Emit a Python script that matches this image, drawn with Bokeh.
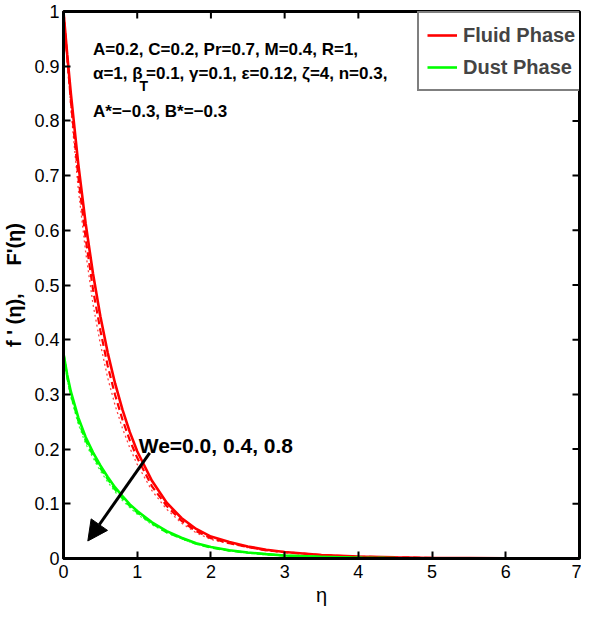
import math
from bokeh.plotting import figure
from bokeh.models import (Range1d, FixedTicker, Legend, LegendItem,
                          Label, Arrow, NormalHead)
from bokeh.embed import file_html
from bokeh.resources import INLINE

# ---- data ----
eta = [0, 0.05, 0.1, 0.2, 0.3, 0.4, 0.5, 0.6, 0.7, 0.8, 0.9, 1.0, 1.2, 1.4, 1.6,
       1.8, 2.0, 2.25, 2.5, 2.75, 3.0, 3.5, 4.0, 4.5, 5.0, 5.5, 6.0, 6.5, 7.0]

fluid_we00 = [1.000, 0.922, 0.850, 0.722, 0.613, 0.521, 0.443, 0.376, 0.320, 0.272,
              0.231, 0.196, 0.142, 0.102, 0.074, 0.054, 0.040, 0.030, 0.022, 0.016,
              0.012, 0.0065, 0.0035, 0.002, 0.001, 0.0006, 0.0003, 0.0001, 0.0]
fluid_we04 = [1.000, 0.917, 0.836, 0.699, 0.586, 0.492, 0.417, 0.352, 0.299, 0.254,
              0.216, 0.184, 0.132, 0.096, 0.069, 0.050, 0.037, 0.028, 0.021, 0.015,
              0.0115, 0.0062, 0.0033, 0.0019, 0.001, 0.0005, 0.0003, 0.0001, 0.0]
fluid_we08 = [1.000, 0.910, 0.822, 0.676, 0.561, 0.465, 0.392, 0.330, 0.280, 0.238,
              0.202, 0.172, 0.124, 0.090, 0.065, 0.047, 0.035, 0.027, 0.020, 0.0145,
              0.011, 0.006, 0.0032, 0.0018, 0.001, 0.0005, 0.0003, 0.0001, 0.0]

dust_we00 = [0.375, 0.336, 0.305, 0.258, 0.222, 0.194, 0.170, 0.149, 0.130, 0.114,
             0.099, 0.087, 0.066, 0.050, 0.038, 0.028, 0.021, 0.015, 0.011, 0.008,
             0.0055, 0.003, 0.0015, 0.0008, 0.0004, 0.0002, 0.0001, 0.0, 0.0]
dust_we04 = [0.375, 0.332, 0.300, 0.252, 0.216, 0.189, 0.165, 0.145, 0.126, 0.110,
             0.096, 0.084, 0.064, 0.048, 0.037, 0.027, 0.020, 0.0145, 0.0105, 0.0077,
             0.0053, 0.0029, 0.0015, 0.0008, 0.0004, 0.0002, 0.0001, 0.0, 0.0]
dust_we08 = [0.375, 0.328, 0.295, 0.246, 0.210, 0.184, 0.160, 0.140, 0.122, 0.106,
             0.093, 0.081, 0.062, 0.047, 0.036, 0.026, 0.020, 0.014, 0.010, 0.0075,
             0.0052, 0.0028, 0.0014, 0.0008, 0.0004, 0.0002, 0.0001, 0.0, 0.0]

x_ticks = [0, 1, 2, 3, 4, 5, 6, 7]
y_ticks = [0, 0.1, 0.2, 0.3, 0.4, 0.5, 0.6, 0.7, 0.8, 0.9, 1]
y_tick_labels = {0: "0", 0.1: "0.1", 0.2: "0.2", 0.3: "0.3", 0.4: "0.4", 0.5: "0.5",
                 0.6: "0.6", 0.7: "0.7", 0.8: "0.8", 0.9: "0.9", 1: "1"}

series_labels = ["Fluid Phase", "Dust Phase"]
we_label = "We=0.0, 0.4, 0.8"

RED = "#ff0000"
GREEN = "#00ff00"
SANS = "Liberation Sans"

p = figure(width=581, height=612, output_backend="svg", toolbar_location=None,
           x_range=Range1d(0, 7), y_range=Range1d(0, 1),
           min_border_left=59, min_border_right=2, min_border_top=11,
           min_border_bottom=54)
p.grid.visible = False
p.outline_line_color = "black"
p.outline_line_width = 3
p.background_fill_color = "white"

# curves
r_f0 = p.line(eta, fluid_we00, line_color=RED, line_width=2.6)
p.line(eta, fluid_we04, line_color=RED, line_width=2.2, line_dash="7 4")
p.line(eta, fluid_we08, line_color=RED, line_width=1.3, line_dash="2 3", line_alpha=0.75)
r_d0 = p.line(eta, dust_we00, line_color=GREEN, line_width=2.6)
p.line(eta, dust_we04, line_color=GREEN, line_width=2.2, line_dash="7 4")
p.line(eta, dust_we08, line_color=GREEN, line_width=1.3, line_dash="2 3", line_alpha=0.75)

# axes
for ax in (p.xaxis[0], p.yaxis[0]):
    ax.axis_line_width = 3
    ax.major_tick_in = 7
    ax.major_tick_out = 0
    ax.major_tick_line_width = 2
    ax.minor_tick_line_color = None
    ax.major_label_text_font = SANS
    ax.major_label_text_font_size = "18px"
    ax.major_label_text_color = "black"
    ax.axis_label_text_color = "black"

p.xaxis[0].ticker = FixedTicker(ticks=x_ticks)
p.yaxis[0].ticker = FixedTicker(ticks=y_ticks)
p.yaxis[0].major_label_overrides = y_tick_labels
p.xaxis[0].major_label_standoff = 6
p.yaxis[0].major_label_standoff = 4

p.xaxis[0].axis_label = "η"
p.xaxis[0].axis_label_text_font = SANS
p.xaxis[0].axis_label_text_font_style = "normal"
p.xaxis[0].axis_label_text_font_size = "20px"
p.xaxis[0].axis_label_standoff = 3

p.yaxis[0].axis_label = "f ' (η),\u00a0\u00a0\u00a0\u00a0 F'(η)"
p.yaxis[0].axis_label_text_font = SANS
p.yaxis[0].axis_label_text_font_style = "bold"
p.yaxis[0].axis_label_text_font_size = "20px"
p.yaxis[0].axis_label_standoff = 6

# inward ticks on the top and right edges of the box
p.ray(x=x_ticks, y=[1] * len(x_ticks), length=7, length_units="screen",
      angle=-math.pi / 2, line_color="black", line_width=2)
p.ray(x=[7] * len(y_ticks), y=y_ticks, length=7, length_units="screen",
      angle=math.pi, line_color="black", line_width=2)

# legend
legend = Legend(items=[LegendItem(label=series_labels[0], renderers=[r_f0]),
                       LegendItem(label=series_labels[1], renderers=[r_d0])],
                location=(354, 467))
legend.border_line_color = "black"
legend.border_line_width = 2
legend.background_fill_color = "white"
legend.background_fill_alpha = 1
legend.label_text_font = SANS
legend.label_text_font_style = "bold"
legend.label_text_font_size = "20px"
legend.glyph_width = 30
legend.glyph_height = 28
legend.label_height = 28
legend.label_standoff = 6
legend.spacing = 4
legend.padding = 8
legend.margin = 0
p.add_layout(legend, "center")

# parameter annotation
lab_kw = dict(text_font=SANS, text_font_style="bold", text_font_size="17px",
              text_baseline="alphabetic", text_color="black")
p.add_layout(Label(x=0.40, y=0.931, text="A=0.2, C=0.2, Pr=0.7, M=0.4, R=1,", **lab_kw))
p.add_layout(Label(x=0.40, y=0.886, text="α=1, β", **lab_kw))
p.add_layout(Label(x=1.03, y=0.864, text="T", text_font=SANS, text_font_style="bold",
                   text_font_size="14px", text_baseline="alphabetic", text_color="black"))
p.add_layout(Label(x=1.12, y=0.886, text="=0.1, γ=0.1, ε=0.12, ζ=4, n=0.3,", **lab_kw))
p.add_layout(Label(x=0.40, y=0.817, text="A*=−0.3, B*=−0.3", **lab_kw))

# We annotation and arrow
p.add_layout(Label(x=1.02, y=0.206, text=we_label, text_font=SANS,
                   text_font_style="bold", text_font_size="21px",
                   text_baseline="alphabetic", text_color="black"))
p.add_layout(Arrow(end=NormalHead(size=20, fill_color="black", line_color="black"),
                   x_start=1.17, y_start=0.193, x_end=0.33, y_end=0.032,
                   line_width=3, line_color="black"))

open("out.html", "w").write(file_html(p, INLINE))
